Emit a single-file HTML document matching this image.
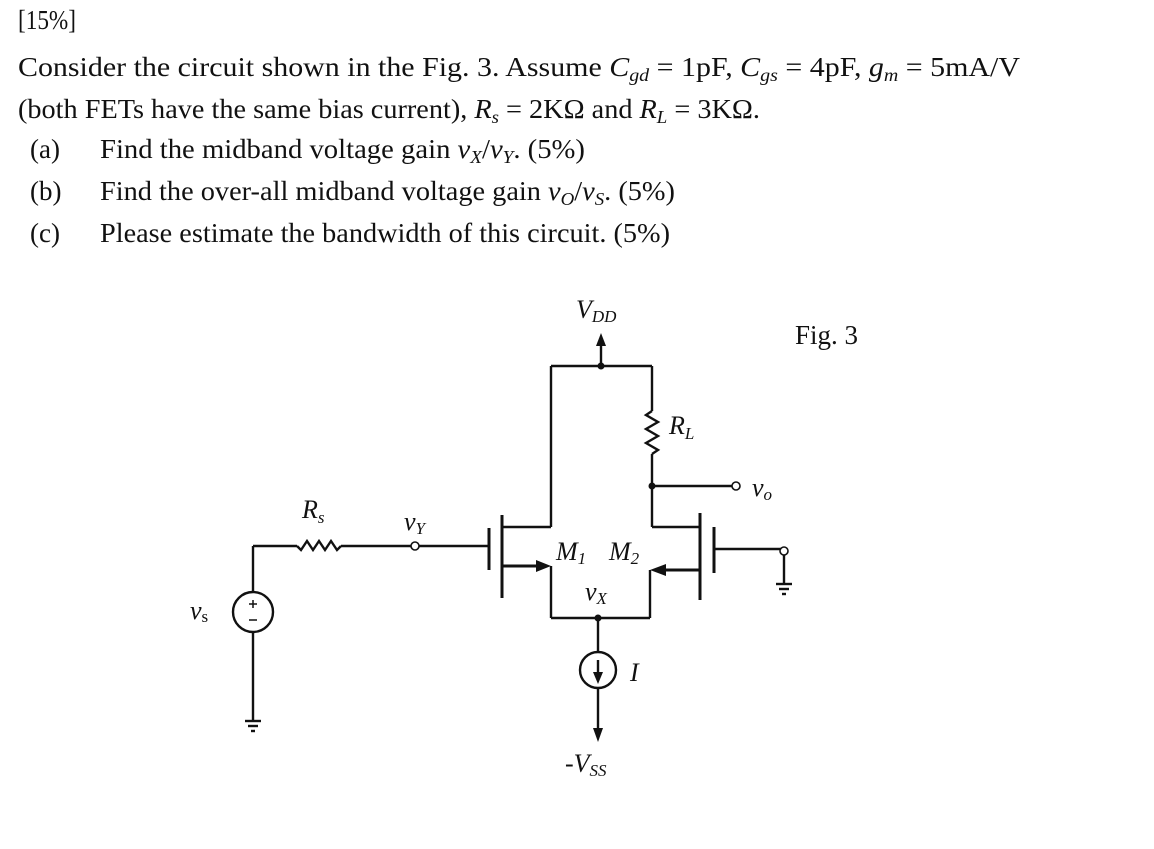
<!DOCTYPE html>
<html><head><meta charset="utf-8"><style>
html,body{margin:0;padding:0;background:#fff;}
svg{display:block}
text{font-family:"Liberation Serif",serif;fill:#111}
.i{font-style:italic}
</style></head><body>
<svg width="1154" height="849" viewBox="0 0 1154 849" xmlns="http://www.w3.org/2000/svg">
<g font-size="27">
<text x="18" y="29" textLength="58" lengthAdjust="spacingAndGlyphs">[15%]</text>
<text x="18" y="76" textLength="1002" lengthAdjust="spacingAndGlyphs">Consider the circuit shown in the Fig. 3. Assume <tspan class="i">C<tspan font-size="18" dy="5">gd</tspan></tspan><tspan dy="-5"> = 1pF, </tspan><tspan class="i">C<tspan font-size="18" dy="5">gs</tspan></tspan><tspan dy="-5"> = 4pF, </tspan><tspan class="i">g<tspan font-size="18" dy="5">m</tspan></tspan><tspan dy="-5"> = 5mA/V</tspan></text>
<text x="18" y="118" textLength="742" lengthAdjust="spacingAndGlyphs">(both FETs have the same bias current), <tspan class="i">R<tspan font-size="18" dy="5">s</tspan></tspan><tspan dy="-5"> = 2KΩ and </tspan><tspan class="i">R<tspan font-size="18" dy="5">L</tspan></tspan><tspan dy="-5"> = 3KΩ.</tspan></text>
<text x="30" y="158">(a)</text>
<text x="100" y="158" textLength="485" lengthAdjust="spacingAndGlyphs">Find the midband voltage gain <tspan class="i">v<tspan font-size="18" dy="5">X</tspan></tspan><tspan dy="-5">/</tspan><tspan class="i">v<tspan font-size="18" dy="5">Y</tspan></tspan><tspan dy="-5">. (5%)</tspan></text>
<text x="30" y="200">(b)</text>
<text x="100" y="200" textLength="575" lengthAdjust="spacingAndGlyphs">Find the over-all midband voltage gain <tspan class="i">v<tspan font-size="18" dy="5">O</tspan></tspan><tspan dy="-5">/</tspan><tspan class="i">v<tspan font-size="18" dy="5">S</tspan></tspan><tspan dy="-5">. (5%)</tspan></text>
<text x="30" y="242">(c)</text>
<text x="100" y="242" textLength="570" lengthAdjust="spacingAndGlyphs">Please estimate the bandwidth of this circuit. (5%)</text>
<text x="795" y="344" font-size="27">Fig. 3</text>
</g>
<g stroke="#111" stroke-width="2.4" fill="none">
<line x1="601" y1="366" x2="601" y2="342"/>
<line x1="551" y1="366" x2="652" y2="366"/>
<line x1="551" y1="366" x2="551" y2="527"/>
<line x1="502" y1="527" x2="551" y2="527"/>
<line x1="502" y1="515" x2="502" y2="598" stroke-width="3"/>
<line x1="489" y1="528" x2="489" y2="570" stroke-width="3"/>
<line x1="418" y1="546" x2="489" y2="546"/>
<line x1="502" y1="566" x2="540" y2="566" stroke-width="3"/>
<line x1="551" y1="566" x2="551" y2="618"/>
<line x1="551" y1="618" x2="650" y2="618"/>
<line x1="700" y1="513" x2="700" y2="600" stroke-width="3"/>
<line x1="714" y1="527" x2="714" y2="573" stroke-width="3"/>
<line x1="652" y1="527" x2="700" y2="527"/>
<line x1="662" y1="570" x2="700" y2="570" stroke-width="3"/>
<line x1="650" y1="570" x2="650" y2="618"/>
<line x1="714" y1="549" x2="781" y2="549"/>
<line x1="784" y1="552" x2="784" y2="584"/>
<line x1="776" y1="584" x2="792" y2="584"/>
<line x1="779" y1="589" x2="789" y2="589"/>
<line x1="782" y1="594" x2="786" y2="594"/>
<line x1="652" y1="366" x2="652" y2="411"/>
<polyline points="652,411 646,415 658,422 646,429 658,436 646,443 658,450 652,454"/>
<line x1="652" y1="454" x2="652" y2="527"/>
<line x1="652" y1="486" x2="732" y2="486"/>
<line x1="598" y1="618" x2="598" y2="652"/>
<circle cx="598" cy="670" r="18"/>
<line x1="598" y1="660" x2="598" y2="676"/>
<line x1="598" y1="688" x2="598" y2="732"/>
<line x1="253" y1="546" x2="253" y2="592"/>
<line x1="253" y1="546" x2="297" y2="546"/>
<polyline points="297,546 301,550 307,541 313,550 319,541 325,550 331,541 337,550 341,546"/>
<line x1="341" y1="546" x2="412" y2="546"/>
<circle cx="253" cy="612" r="20"/>
<line x1="253" y1="632" x2="253" y2="721"/>
<line x1="245" y1="721" x2="261" y2="721"/>
<line x1="248" y1="726" x2="258" y2="726"/>
<line x1="251" y1="731" x2="255" y2="731"/>
<line x1="249" y1="604" x2="257" y2="604" stroke-width="1.5"/>
<line x1="253" y1="600" x2="253" y2="608" stroke-width="1.5"/>
<line x1="249" y1="620" x2="257" y2="620" stroke-width="1.5"/>
</g>
<g fill="#111">
<polygon points="601,333 596,346 606,346"/>
<circle cx="601" cy="366" r="3.5"/>
<polygon points="551,566 536,560 536,572"/>
<polygon points="650,570 666,564 666,576"/>
<circle cx="652" cy="486" r="3.5"/>
<circle cx="598" cy="618" r="3.5"/>
<polygon points="598,684 593,672 603,672"/>
<polygon points="598,742 593,728 603,728"/>
</g>
<g fill="#fff" stroke="#111" stroke-width="1.6">
<circle cx="736" cy="486" r="4"/>
<circle cx="415" cy="546" r="4"/>
<circle cx="784" cy="551" r="4"/>
</g>
<g font-size="26" class="i">
<text x="576" y="318" class="i">V<tspan font-size="17" dy="4">DD</tspan></text>
<text x="669" y="434" class="i">R<tspan font-size="17" dy="5">L</tspan></text>
<text x="752" y="496" class="i">v<tspan font-size="17" dy="4">o</tspan></text>
<text x="302" y="518" class="i">R<tspan font-size="17" dy="5">s</tspan></text>
<text x="404" y="530" class="i">v<tspan font-size="17" dy="4">Y</tspan></text>
<text x="556" y="560" class="i">M<tspan font-size="17" dy="4">1</tspan></text>
<text x="609" y="560" class="i">M<tspan font-size="17" dy="4">2</tspan></text>
<text x="585" y="600" class="i">v<tspan font-size="17" dy="4">X</tspan></text>
<text x="630" y="681" class="i">I</text>
<text x="565" y="772" class="i">-V<tspan font-size="17" dy="4">SS</tspan></text>
<text x="190" y="619" class="i">v<tspan font-size="17" dy="3" font-style="normal">s</tspan></text>
</g>
</svg>
</body></html>
